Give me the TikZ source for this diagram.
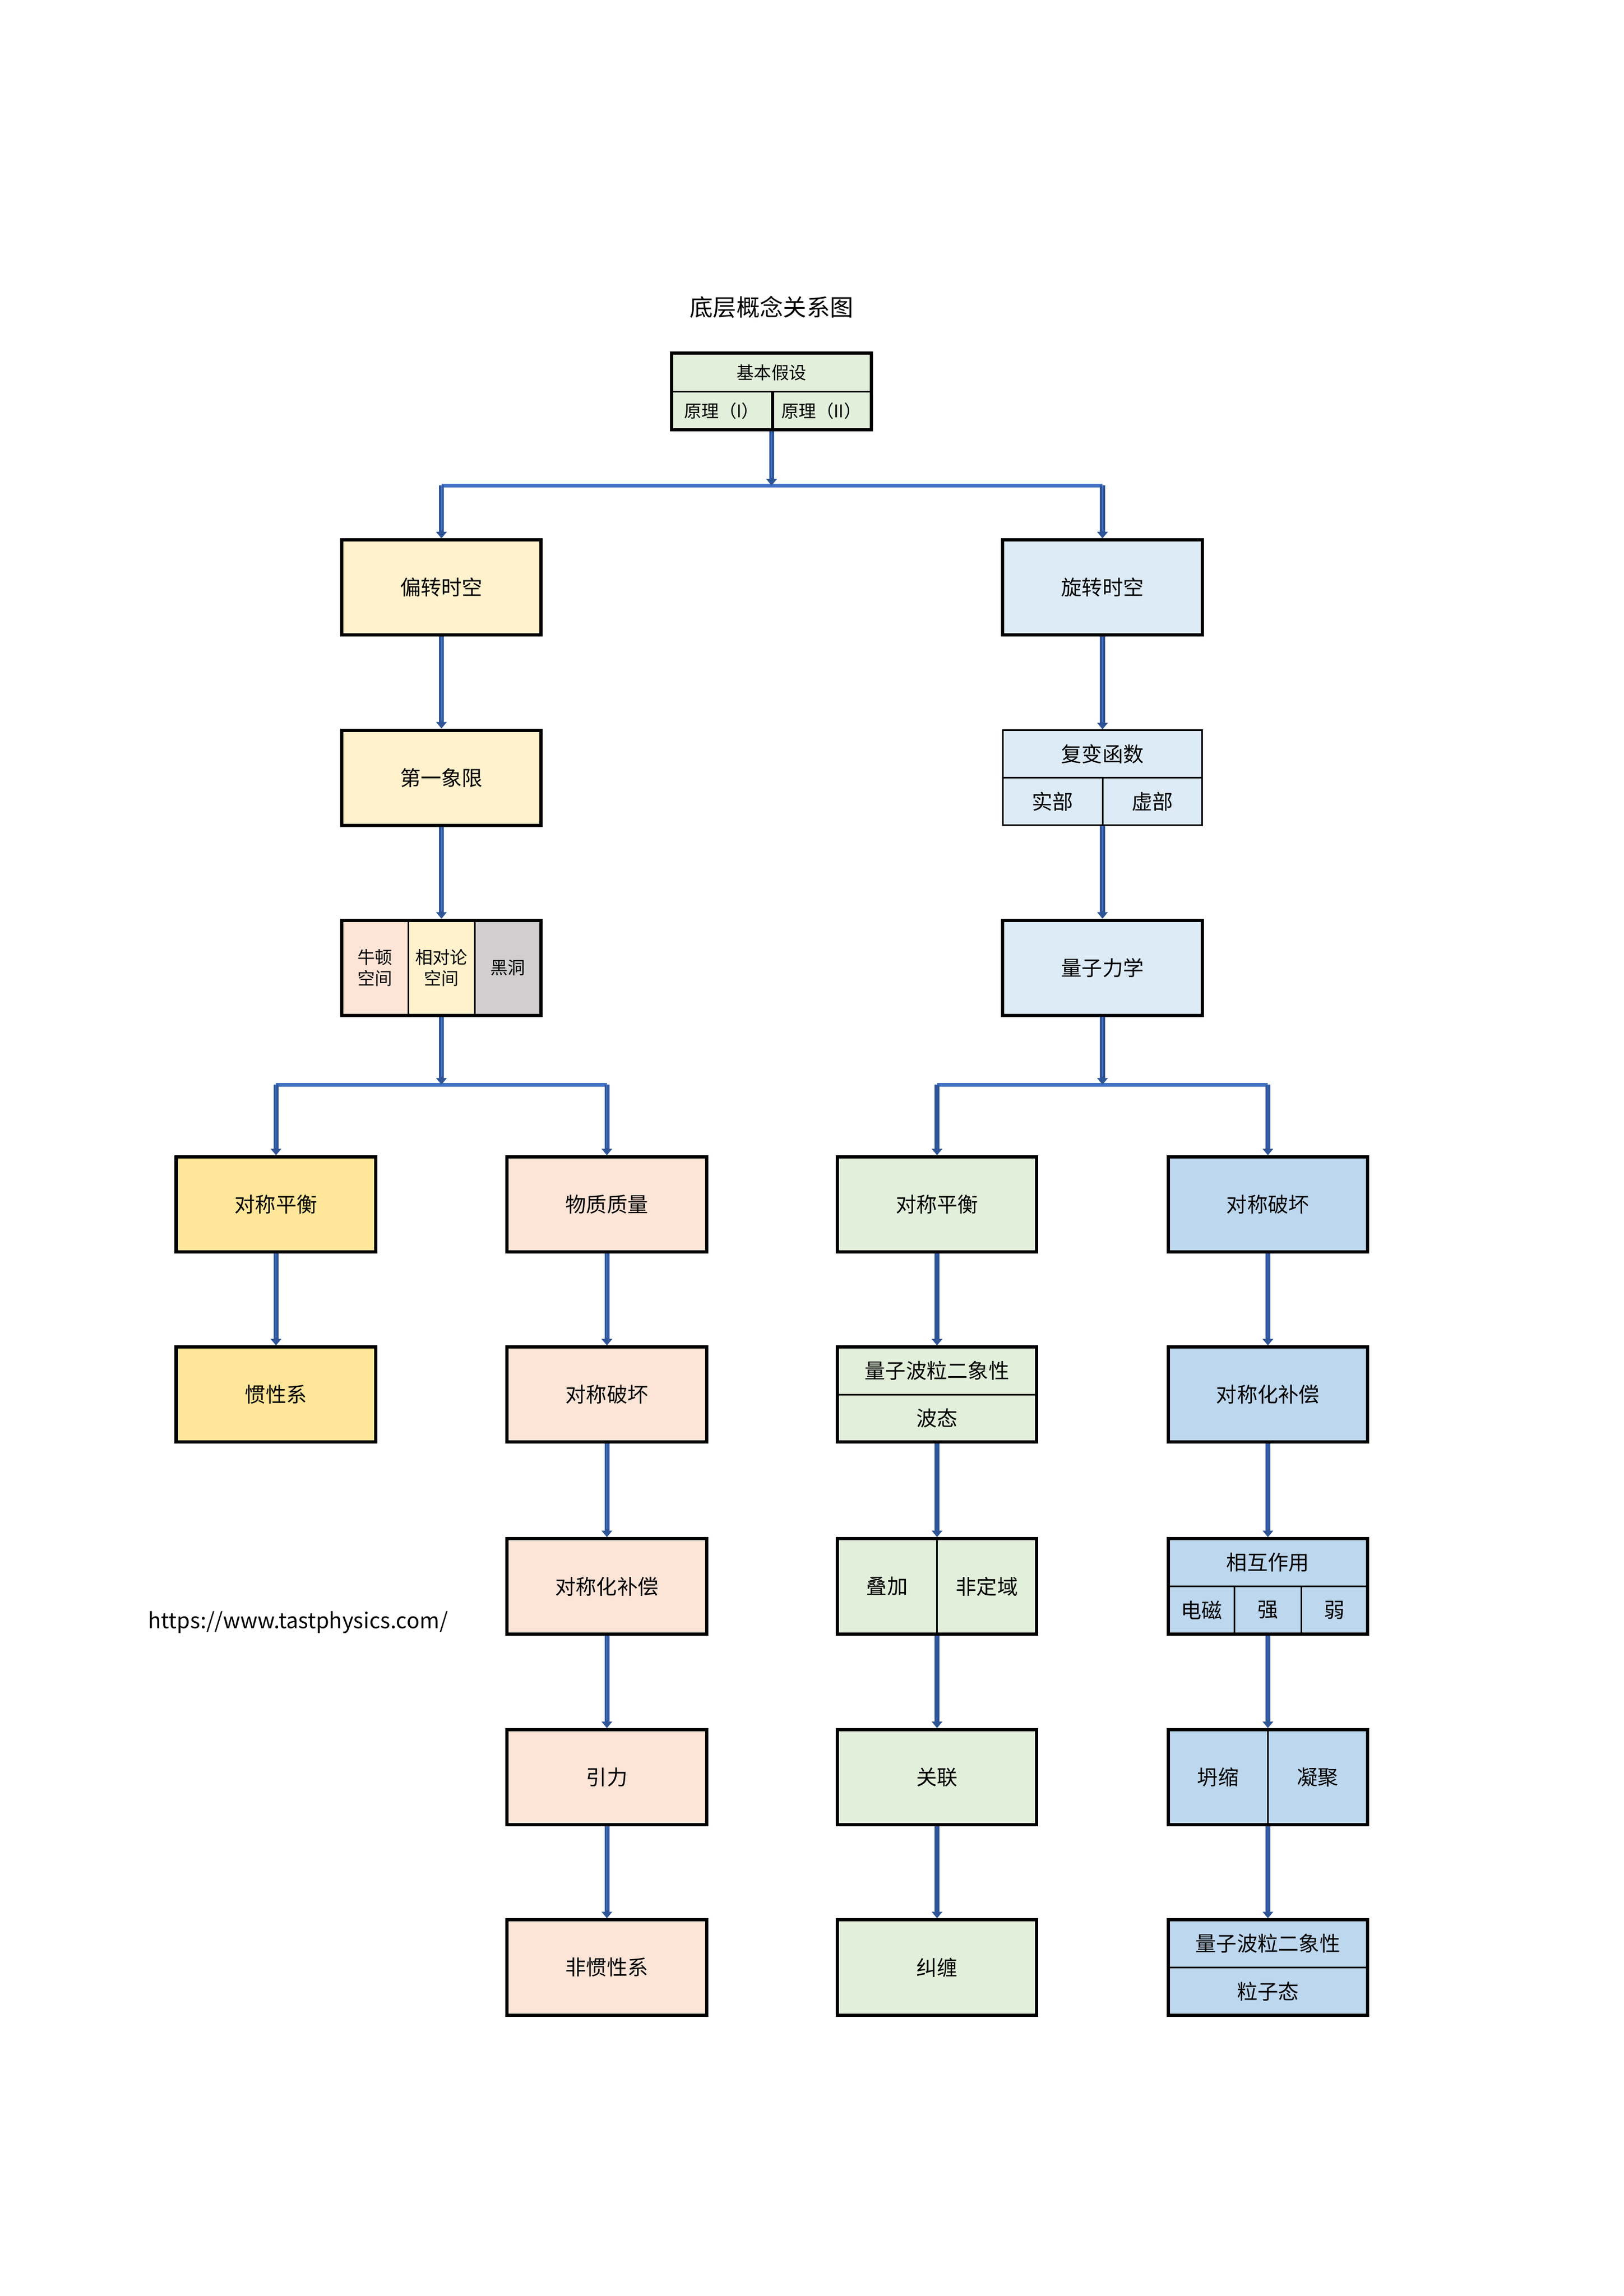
\documentclass[tikz,border=0pt]{standalone}
\usepackage{fontspec}
\setmainfont{Noto Sans CJK SC}
\usetikzlibrary{arrows.meta}

\definecolor{cellgreen}{HTML}{E2EFDA}
\definecolor{cellyellow}{HTML}{FFF2CC}
\definecolor{cellsky}{HTML}{DDEBF7}
\definecolor{cellpeach}{HTML}{FCE4D6}
\definecolor{cellgray}{HTML}{D0CECE}
\definecolor{cellgold}{HTML}{FFE699}
\definecolor{cellblue}{HTML}{BDD7EE}
\definecolor{arrowblue}{HTML}{2F5597}
\definecolor{lineblue}{HTML}{4472C4}

\tikzset{
  box/.style={draw, line width=1.2pt, minimum width=25.8mm, minimum height=12.3mm,
    inner sep=0pt, align=center, font=\fontsize{7.6}{9.5}\selectfont},
  cell/.style={draw, line width=0.6pt, inner sep=0pt, align=center,
    font=\fontsize{7.6}{9.5}\selectfont},
  small/.style={font=\fontsize{6.4}{7.8}\selectfont},
  flow/.style={draw=arrowblue, line width=1.8pt, -{Triangle[width=3.8pt,length=2.4pt]},
    postaction={draw=lineblue, line width=0.35pt, -, shorten >=2.8pt}},
  branch/.style={draw=lineblue, line width=1.4pt},
}

\begin{document}
\begin{tikzpicture}[x=1mm, y=-1mm]
  \useasboundingbox (0,0) rectangle (210,297);

  % Title
  \node[font=\fontsize{8.6}{10}\selectfont] (title) at (99.8,39.7) {底层概念关系图};

  % Top box
  \node[cell, small, fill=cellgreen, minimum width=25.8mm, minimum height=4.95mm] (topa) at (99.8,48.175) {基本假设};
  \node[cell, small, fill=cellgreen, minimum width=12.9mm, minimum height=4.95mm] (topb) at (93.35,53.125) {原理（I）};
  \node[cell, small, fill=cellgreen, minimum width=12.9mm, minimum height=4.95mm] (topc) at (106.25,53.125) {原理（II）};
  \draw[line width=1.2pt] (topb.north east) -- (topb.south east);
  \node[box, minimum height=9.9mm] (top) at (99.8,50.65) {};

  % Left branch
  \node[box, fill=cellyellow] (b1) at (57.1,76) {偏转时空};
  \node[box, fill=cellyellow] (b2) at (57.1,100.6) {第一象限};
  \node[cell, small, fill=cellpeach, minimum width=8.6mm, minimum height=12.3mm] (b3a) at (48.5,125.2) {牛顿\\空间};
  \node[cell, small, fill=cellyellow, minimum width=8.6mm, minimum height=12.3mm] (b3b) at (57.1,125.2) {相对论\\空间};
  \node[cell, small, fill=cellgray, minimum width=8.6mm, minimum height=12.3mm] (b3c) at (65.7,125.2) {黑洞};
  \node[box] (b3) at (57.1,125.2) {};

  % Right branch
  \node[box, fill=cellsky] (e1) at (142.6,76) {旋转时空};
  \node[cell, fill=cellsky, minimum width=25.8mm, minimum height=6.15mm] (e2a) at (142.6,97.525) {复变函数};
  \node[cell, fill=cellsky, minimum width=12.9mm, minimum height=6.15mm] (e2b) at (136.15,103.675) {实部};
  \node[cell, fill=cellsky, minimum width=12.9mm, minimum height=6.15mm] (e2c) at (149.05,103.675) {虚部};
  \node[box, line width=0.6pt] (e2) at (142.6,100.6) {};
  \node[box, fill=cellsky] (e3) at (142.6,125.2) {量子力学};

  % Column A
  \node[box, fill=cellgold] (a4) at (35.7,155.8) {对称平衡};
  \node[box, fill=cellgold] (a5) at (35.7,180.4) {惯性系};

  % Column C
  \node[box, fill=cellpeach] (c4) at (78.5,155.8) {物质质量};
  \node[box, fill=cellpeach] (c5) at (78.5,180.4) {对称破坏};
  \node[box, fill=cellpeach] (c6) at (78.5,205.2) {对称化补偿};
  \node[box, fill=cellpeach] (c7) at (78.5,229.9) {引力};
  \node[box, fill=cellpeach] (c8) at (78.5,254.5) {非惯性系};

  % Column D
  \node[box, fill=cellgreen] (d4) at (121.2,155.8) {对称平衡};
  \node[cell, fill=cellgreen, minimum width=25.8mm, minimum height=6.15mm] (d5a) at (121.2,177.325) {量子波粒二象性};
  \node[cell, fill=cellgreen, minimum width=25.8mm, minimum height=6.15mm] (d5b) at (121.2,183.475) {波态};
  \node[box] (d5) at (121.2,180.4) {};
  \node[cell, fill=cellgreen, minimum width=12.9mm, minimum height=12.3mm] (d6a) at (114.75,205.2) {叠加};
  \node[cell, fill=cellgreen, minimum width=12.9mm, minimum height=12.3mm] (d6b) at (127.65,205.2) {非定域};
  \node[box] (d6) at (121.2,205.2) {};
  \node[box, fill=cellgreen] (d7) at (121.2,229.9) {关联};
  \node[box, fill=cellgreen] (d8) at (121.2,254.5) {纠缠};

  % Column F
  \node[box, fill=cellblue] (f4) at (164,155.8) {对称破坏};
  \node[box, fill=cellblue] (f5) at (164,180.4) {对称化补偿};
  \node[cell, fill=cellblue, minimum width=25.8mm, minimum height=6.15mm] (f6a) at (164,202.125) {相互作用};
  \node[cell, fill=cellblue, minimum width=8.6mm, minimum height=6.15mm] (f6b) at (155.4,208.275) {电磁};
  \node[cell, fill=cellblue, minimum width=8.6mm, minimum height=6.15mm] (f6c) at (164,208.275) {强};
  \node[cell, fill=cellblue, minimum width=8.6mm, minimum height=6.15mm] (f6d) at (172.6,208.275) {弱};
  \node[box] (f6) at (164,205.2) {};
  \node[cell, fill=cellblue, minimum width=12.9mm, minimum height=12.3mm] (f7a) at (157.55,229.9) {坍缩};
  \node[cell, fill=cellblue, minimum width=12.9mm, minimum height=12.3mm] (f7b) at (170.45,229.9) {凝聚};
  \node[box] (f7) at (164,229.9) {};
  \node[cell, fill=cellblue, minimum width=25.8mm, minimum height=6.15mm] (f8a) at (164,251.425) {量子波粒二象性};
  \node[cell, fill=cellblue, minimum width=25.8mm, minimum height=6.15mm] (f8b) at (164,257.575) {粒子态};
  \node[box] (f8) at (164,254.5) {};

  % Website
  \node[anchor=west, inner sep=0pt, font=\fontsize{7.9}{10}\selectfont] (url) at (19.1,209.9) {https://www.tastphysics.com/};

  % Branch points
  \coordinate (j1) at (99.8,62.8);
  \coordinate (j1l) at (57.1,62.8);
  \coordinate (j1r) at (142.6,62.8);
  \coordinate (j2) at (57.1,140.3);
  \coordinate (j2l) at (35.7,140.3);
  \coordinate (j2r) at (78.5,140.3);
  \coordinate (j3) at (142.6,140.3);
  \coordinate (j3l) at (121.2,140.3);
  \coordinate (j3r) at (164,140.3);

  % Branch lines
  \draw[branch] (j1l) -- (j1r);
  \draw[branch] (j2l) -- (j2r);
  \draw[branch] (j3l) -- (j3r);

  % Arrows
  \draw[flow] (top) -- (j1);
  \draw[flow] (b3) -- (j2);
  \draw[flow] (e3) -- (j3);
  \foreach \u/\v in {j1l/b1, j1r/e1, j2l/a4, j2r/c4, j3l/d4, j3r/f4,
      b1/b2, b2/b3, e1/e2, e2/e3, a4/a5,
      c4/c5, c5/c6, c6/c7, c7/c8,
      d4/d5, d5/d6, d6/d7, d7/d8,
      f4/f5, f5/f6, f6/f7, f7/f8} {
    \draw[flow] (\u) -- (\v);
  }
\end{tikzpicture}
\end{document}
